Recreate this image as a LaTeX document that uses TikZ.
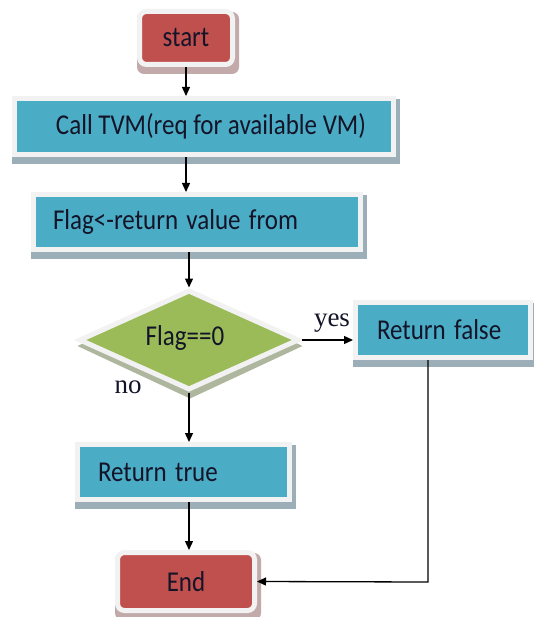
\documentclass[tikz,border=0pt]{standalone}
\usepackage{fontspec}
\setmainfont{Carlito}
\newfontfamily\labelfont{Liberation Serif}
\usetikzlibrary{shapes.geometric,arrows.meta,calc}
\pgfdeclarelayer{bg}
\pgfsetlayers{bg,main}
\definecolor{aqua}{HTML}{4BACC6}
\definecolor{brick}{HTML}{C0504D}
\definecolor{olive}{HTML}{9BBB59}
\definecolor{rim}{HTML}{F2F2F2}
\definecolor{txt}{HTML}{141428}
\definecolor{shaqua}{HTML}{9CAFB8}
\definecolor{shred}{HTML}{C2AAAA}
\definecolor{shgreen}{HTML}{AEB69E}
\newcommand{\tallt}[1]{\scalebox{1}[1.15]{#1}}
\begin{document}
\begin{tikzpicture}[x=1pt,y=1pt,
  boxbase/.style={draw=rim, line width=5pt, text=txt, inner sep=0pt,
    font=\fontsize{25}{30}\selectfont},
  procbox/.style={boxbase, fill=aqua},
  termbox/.style={boxbase, fill=brick, rounded corners=7pt},
  decbox/.style={boxbase, fill=olive, shape=diamond, shape aspect=2.2, line join=miter},
  conn/.style={line width=1.3pt, draw=black, -{Triangle[length=9pt,width=8pt]}},
  branchlabel/.style={font=\labelfont\fontsize{27}{30}\selectfont, text=txt, inner sep=0pt}
]
\useasboundingbox (0,0) rectangle (534,-617);

\node[termbox, minimum width=93, minimum height=53] (start) at (186,-38) {\tallt{start}};
\node[procbox, minimum width=379, minimum height=56] (call) at (204,-126.5) {\hspace*{14pt}\tallt{Call TVM(req for available VM)}};
\node[procbox, minimum height=55, text width=288, align=left, inner xsep=19.5pt] (flag) at (197,-222) {\tallt{Flag<-return value from}};
\node[decbox, minimum width=220, minimum height=100] (dec) at (189,-340) {};
\node[text=txt, font=\fontsize{25}{30}\selectfont, inner sep=0pt] (dectext) at (185,-338) {\tallt{Flag==0}};
\node[procbox, minimum height=55, text width=132, align=left, inner xsep=21.5pt] (rfalse) at (443,-330) {\tallt{Return false}};
\node[procbox, minimum height=55, text width=171, align=left, inner xsep=20.5pt] (rtrue) at (183.5,-472) {\tallt{Return true}};
\node[termbox, minimum width=137, minimum height=58] (end) at (186,-581.5) {\tallt{End}};

\node[branchlabel] (yes) at (332,-323) {yes};
\node[branchlabel] (no) at (128,-387) {no};

\begin{pgfonlayer}{bg}
  \fill[shred, rounded corners=7pt] ($(start.south west)+(0,-7)$) rectangle ($(start.north east)+(4,-3)$);
  \fill[shaqua] ($(call.south west)+(0,-7)$) rectangle ($(call.north east)+(4,-3)$);
  \fill[shaqua] ($(flag.south west)+(0,-7)$) rectangle ($(flag.north east)+(4,-3)$);
  \fill[shaqua] ($(rfalse.south west)+(0,-7)$) rectangle ($(rfalse.north east)+(4,-3)$);
  \fill[shaqua] ($(rtrue.south west)+(0,-7)$) rectangle ($(rtrue.north east)+(4,-3)$);
  \fill[shred, rounded corners=7pt] ($(end.south west)+(0,-7)$) rectangle ($(end.north east)+(4,-3)$);
  \fill[shgreen] ($(dec.north)+(1,-6)$) -- ($(dec.east)+(1,-6)$) -- ($(dec.south)+(1,-6)$) -- ($(dec.west)+(1,-6)$) -- cycle;
\end{pgfonlayer}

\coordinate (turn) at (428,-582);
\draw[conn] (start.south) -- (start.south |- call.north);
\draw[conn] (start.south |- call.south) -- (start.south |- flag.north);
\draw[conn] (dec.north |- flag.south) -- (dec.north);
\draw[conn] (dec.east) -- (dec.east -| rfalse.west);
\draw[conn] (dec.south) -- (dec.south |- rtrue.north);
\draw[conn] (dec.south |- rtrue.south) -- (dec.south |- end.north);
\draw[conn] (turn |- rfalse.south) -- (turn) -- (end.east);
\end{tikzpicture}
\end{document}
